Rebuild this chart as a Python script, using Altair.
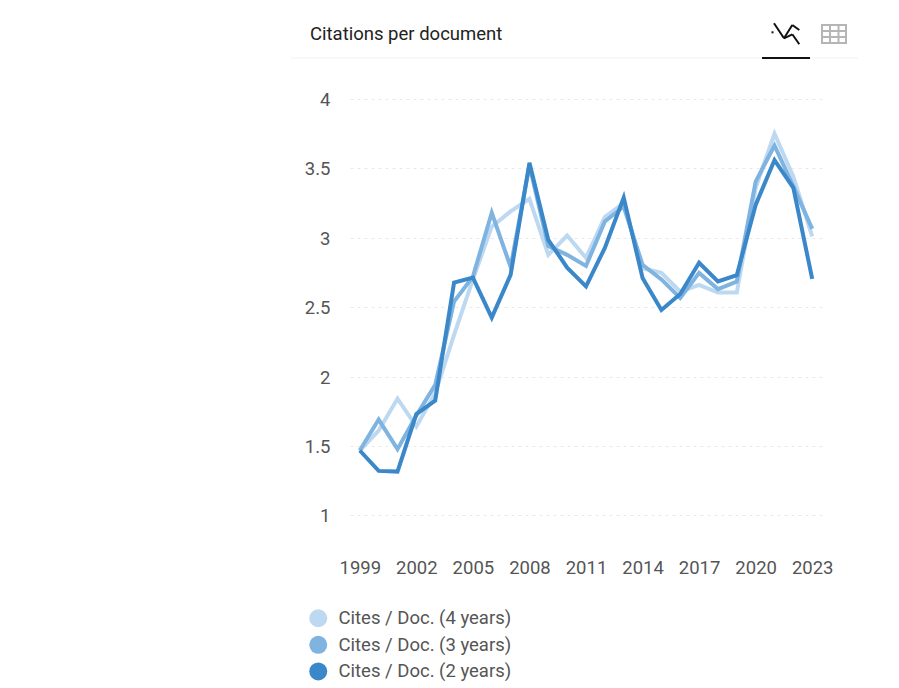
import altair as alt
import pandas as pd

years = list(range(1999, 2024))
cites4 = [1.467, 1.61, 1.84, 1.64, 1.88, 2.30, 2.70, 3.08, 3.19, 3.28, 2.877, 3.016, 2.855, 3.15, 3.25, 2.78, 2.747, 2.612, 2.66, 2.605, 2.605, 3.36, 3.75, 3.44, 3.01]
cites3 = [1.467, 1.69, 1.477, 1.72, 1.94, 2.54, 2.72, 3.18, 2.79, 3.52, 2.94, 2.877, 2.797, 3.117, 3.225, 2.805, 2.70, 2.567, 2.747, 2.63, 2.685, 3.405, 3.665, 3.37, 3.064]
cites2 = [1.467, 1.32, 1.315, 1.73, 1.827, 2.677, 2.713, 2.425, 2.733, 3.54, 2.985, 2.785, 2.65, 2.927, 3.29, 2.71, 2.48, 2.595, 2.82, 2.685, 2.73, 3.237, 3.56, 3.36, 2.704]
series_names = ["Cites / Doc. (4 years)", "Cites / Doc. (3 years)", "Cites / Doc. (2 years)"]
series_colors = ["#bdd8f1", "#7fb3e0", "#3a87c9"]
x_labels = [1999, 2002, 2005, 2008, 2011, 2014, 2017, 2020, 2023]
y_labels = [1, 1.5, 2, 2.5, 3, 3.5, 4]
title_text = "Citations per document"

rows = []
for name, vals in zip(series_names, [cites4, cites3, cites2]):
    for yr, v in zip(years, vals):
        rows.append({"year": yr, "value": v, "series": name})
df = pd.DataFrame(rows)

FONT = "Roboto"
color = alt.Color(
    "series:N",
    scale=alt.Scale(domain=series_names, range=series_colors),
    legend=alt.Legend(
        title=None, orient="none", legendX=-41, legendY=510,
        symbolType="circle", symbolSize=324, symbolStrokeWidth=0,
        labelFont=FONT, labelFontSize=18.5, labelColor="#555555",
        rowPadding=7.6, labelOffset=11, labelLimit=300,
    ),
)
x = alt.X(
    "year:O",
    scale=alt.Scale(type="point", padding=0.52),
    axis=alt.Axis(
        title=None, values=x_labels, labelAngle=0, ticks=False, domain=False, grid=False,
        labelFont=FONT, labelFontSize=18.5, labelColor="#555555", labelPadding=8,
    ),
)
y = alt.Y(
    "value:Q",
    scale=alt.Scale(domain=[0.75, 4], nice=False, zero=False),
    axis=alt.Axis(
        title=None, values=y_labels, ticks=False, domain=False, grid=True,
        gridColor="#e8e8e8", gridDash=[3, 4], gridWidth=1,
        labelFont=FONT, labelFontSize=18.5, labelColor="#555555", labelPadding=20,
        labelExpr="datum.value", labelOffset=0.5,
    ),
)
lines = alt.Chart(df).mark_line(strokeWidth=4).encode(x=x, y=y, color=color, detail="series:N")
dots = alt.Chart(df).mark_circle(size=0, opacity=1).encode(x=x, y=y, color=color)

one = pd.DataFrame({"a": [0]})
OX, OY = 350, 99
def vx(p): return alt.value(p - OX)
def vy(p): return alt.value(p - OY)

def seg(x1, y1, x2, y2, col, w):
    return alt.Chart(one).mark_rule(color=col, strokeWidth=w).encode(
        x=vx(x1), x2=vx(x2), y=vy(y1), y2=vy(y2))

title_mark = alt.Chart(one).mark_text(
    text=title_text, align="left", baseline="middle", font=FONT, fontSize=18.5, color="#222222"
).encode(x=vx(310), y=vy(34))

ICON = "#111111"
GREY = "#b5b5b5"
chrome = [
    seg(291, 58, 858, 58, "#f2f2f2", 1),
    seg(762, 58, 810, 58, ICON, 2),
    # line-chart icon
    seg(774, 23.3, 784, 38.3, ICON, 2),
    seg(784, 38.3, 792.3, 25, ICON, 2),
    seg(792.3, 25, 799.3, 30, ICON, 2),
    seg(784, 38.3, 792.3, 34.3, ICON, 2),
    seg(792.3, 34.3, 799.3, 44.3, ICON, 2),
    seg(771.5, 32.3, 773.5, 32.3, ICON, 2),
    # table icon
    seg(821, 25, 847, 25, GREY, 2),
    seg(821, 31, 847, 31, GREY, 2),
    seg(821, 37, 847, 37, GREY, 2),
    seg(821, 43, 847, 43, GREY, 2),
    seg(822, 24, 822, 44, GREY, 2),
    seg(830, 24, 830, 44, GREY, 2),
    seg(838.5, 24, 838.5, 44, GREY, 2),
    seg(846, 24, 846, 44, GREY, 2),
]

chart = alt.layer(lines, dots, title_mark, *chrome).properties(
    width=472, height=451,
    autosize=alt.AutoSizeParams(type="none"),
    padding={"left": 342, "top": 91, "right": 61, "bottom": 137},
).configure_view(stroke=None)

chart.save("out.html", embed_options={"renderer": "svg", "actions": False})
